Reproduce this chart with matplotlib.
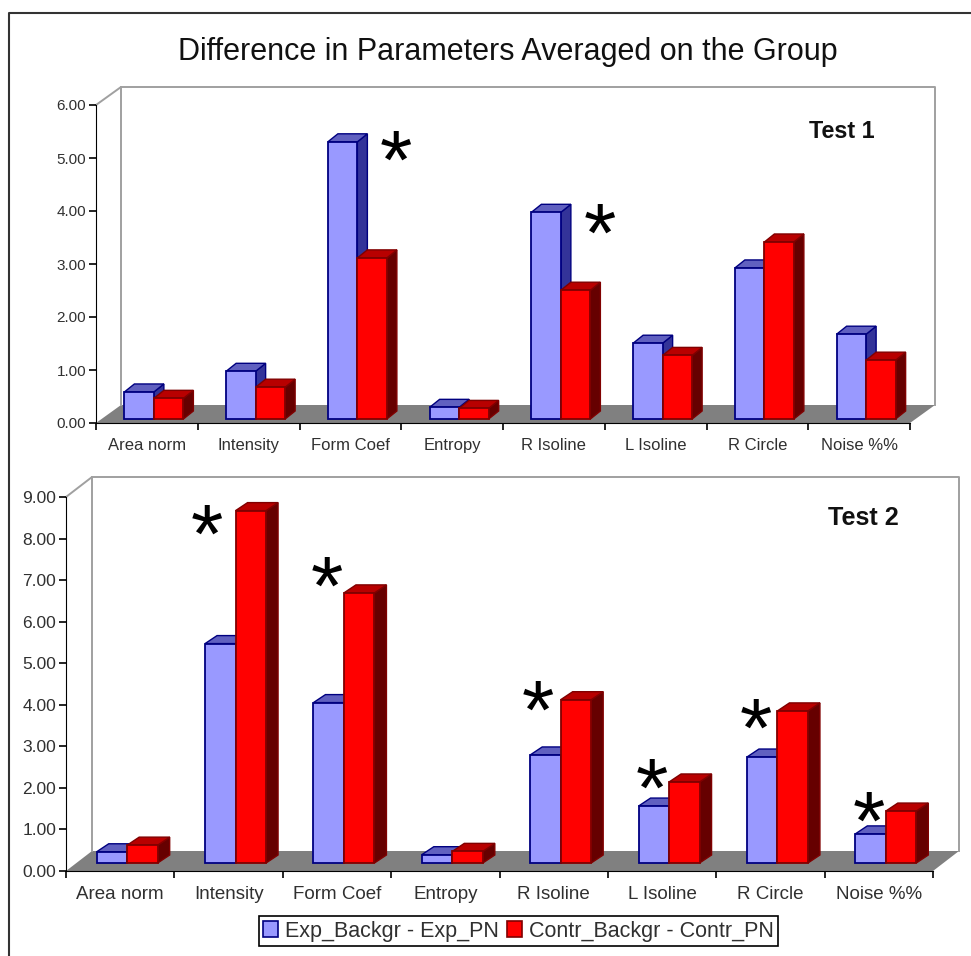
import matplotlib
matplotlib.use("Agg")
import matplotlib.pyplot as plt
from matplotlib.patches import Polygon, Patch, Rectangle
from matplotlib.lines import Line2D

plt.rcParams['font.family'] = ['Liberation Sans', 'DejaVu Sans']

W, H = 971, 956
categories_top = ["Area norm", "Intensity", "Form Coef", "Entropy", "R Isoline", "L Isoline", "R Circle", "Noise %%"]
categories_bot = ["Area norm", "Intensity", "Form Coef", "Entropy", "R Isoline", "L Isoline", "R Circle", "Noise %%"]
exp_top = [0.51, 0.90, 5.23, 0.22, 3.90, 1.43, 2.85, 1.60]
con_top = [0.39, 0.60, 3.04, 0.20, 2.43, 1.20, 3.34, 1.11]
exp_bot = [0.27, 5.28, 3.86, 0.20, 2.60, 1.37, 2.55, 0.70]
con_bot = [0.43, 8.48, 6.50, 0.28, 3.93, 1.95, 3.66, 1.25]
stars_top = [(2.95, 5.21), (4.95, 3.83)]
stars_bot = [(1.30, 8.43), (2.41, 7.16), (4.35, 4.19), (5.41, 2.31), (6.37, 3.76), (7.41, 1.52)]
series_names = ["Exp_Backgr - Exp_PN", "Contr_Backgr - Contr_PN"]

BLUE = ("#9999FF", "#6060C0", "#333399", "#000080")
RED = ("#FF0000", "#B80000", "#660000", "#800000")
GREY = "#808080"
WALL = "#A0A0A0"
TXT = "#303030"

fig = plt.figure(figsize=(W / 100, H / 100), dpi=100)


def panel(x0, x1, ytop, ybot, ymax, cats, a, b, wall_dx, wall_dy, lift, shift, bar_w,
          depth_x, depth_y, ytick_fs, cat_fs, cat_drop, label, label_xy, label_fs, stars):
    ax = fig.add_axes([x0 / W, 1 - ybot / H, (x1 - x0) / W, (ybot - ytop) / H])
    n = len(cats)
    ax.set_xlim(0, n)
    ax.set_ylim(0, ymax)
    ax.patch.set_visible(False)
    for s in ("top", "right"):
        ax.spines[s].set_visible(False)
    ax.spines["bottom"].set_zorder(6)
    ax.spines["left"].set_zorder(6)
    cw = (x1 - x0) / n
    sc = (ybot - ytop) / ymax
    px = lambda v: v / cw
    py = lambda v: v / sc
    wx, wy = px(wall_dx), py(wall_dy)
    # floor and walls
    ax.add_patch(Polygon([(0, 0), (n, 0), (n + wx, wy), (wx, wy)], closed=True, fc=GREY, ec="none", zorder=1, clip_on=False))
    ax.add_line(Line2D([0, wx, n + wx, n + wx], [ymax, ymax + wy, ymax + wy, wy], color=WALL, lw=1.4, zorder=1, clip_on=False))
    ax.add_line(Line2D([wx, wx], [wy, ymax + wy], color=WALL, lw=1.4, zorder=1, clip_on=False))
    # bars
    bw, dx, dy = px(bar_w), px(depth_x), py(depth_y)
    base = py(lift)
    for i in range(n):
        c = i + 0.5 + px(shift)
        for left, val, (front, top, side, edge), z in (
            (c - bw, a[i], BLUE, 2), (c, b[i], RED, 3)):
            right = left + bw
            v = base + val
            ax.add_patch(Polygon([(right, base), (right + dx, base + dy), (right + dx, v + dy), (right, v)],
                                 closed=True, fc=side, ec=edge, lw=1.0, zorder=z, clip_on=False))
            ax.add_patch(Polygon([(left, v), (left + dx, v + dy), (right + dx, v + dy), (right, v)],
                                 closed=True, fc=top, ec=edge, lw=1.0, zorder=z, clip_on=False))
            ax.add_patch(Rectangle((left, base), bw, val, fc=front, ec=edge, lw=1.3, zorder=z + 0.1, clip_on=False))
    ax.set_yticks(range(ymax + 1))
    ax.set_yticklabels([f"{t:.2f}" for t in range(ymax + 1)], fontsize=ytick_fs, color=TXT)
    ax.set_xticks(range(n + 1))
    ax.set_xticklabels([""] * (n + 1))
    ax.tick_params(axis="both", length=5, width=1.2, color="black", pad=2)
    for i, t in enumerate(cats):
        ax.annotate(t, (i + 0.5, 0), xytext=(0, -cat_drop), textcoords="offset pixels", ha="center", va="baseline",
                    fontsize=cat_fs, color=TXT, annotation_clip=False)
    ax.text(label_xy[0], label_xy[1], label, fontsize=label_fs, fontweight="bold", color="#111111", ha="center", va="center", zorder=7)
    for sx, sy in stars:
        ax.annotate("*", (sx, sy), xytext=(0, -11), textcoords="offset pixels", fontsize=60, color="black",
                    ha="center", va="center_baseline", zorder=7, annotation_clip=False)
    return ax


panel(96, 910, 105, 423, 6, categories_top, exp_top, con_top, 25, 18, 4, 7, 29.5, 10, 8, 11, 12, 27,
      "Test 1", (7.33, 5.5), 16.8, stars_top)
panel(66, 933, 497, 871, 9, categories_bot, exp_bot, con_bot, 26, 20, 8, 7, 30.5, 12, 8, 12.5, 13.5, 28,
      "Test 2", (7.36, 8.5), 18.2, stars_bot)

fig.text(508 / W, 1 - 52 / H, "Difference in Parameters Averaged on the Group", fontsize=22, color="#111111", ha="center", va="center")

# outer frame: left and top edges only
fig.add_artist(Line2D([9 / W, 9 / W, 1], [0, 1 - 13 / H, 1 - 13 / H], color="#333333", lw=1.5))

handles = [Patch(fc=BLUE[0], ec=BLUE[3], lw=1.2), Patch(fc=RED[0], ec=RED[3], lw=1.2)]
leg = fig.legend(handles, series_names, loc="center", bbox_to_anchor=(518.5 / W, 1 - 931 / H), ncol=2,
                 frameon=True, fancybox=False, edgecolor="black", framealpha=1, fontsize=15.5,
                 handlelength=0.7, handleheight=0.7, handletextpad=0.3, columnspacing=0.4,
                 borderpad=0.22, borderaxespad=0, labelcolor=TXT)
leg.get_frame().set_linewidth(1.2)

fig.savefig("out.png", dpi=100, facecolor="white")
